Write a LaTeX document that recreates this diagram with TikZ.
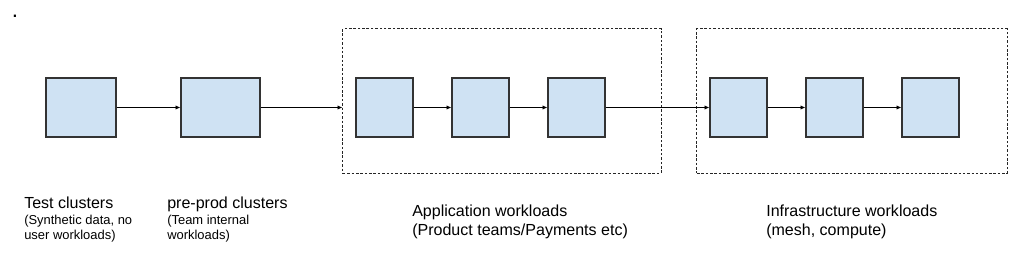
\documentclass[tikz,border=0pt]{standalone}
\usepackage{fontspec}
\setmainfont{Liberation Sans}
\usetikzlibrary{arrows.meta,positioning}
\definecolor{boxblue}{HTML}{CFE2F3}
\definecolor{lineg}{HTML}{333333}
\tikzset{
    cluster/.style={rectangle, draw=lineg, fill=boxblue, line width=0.8pt, minimum width=1.425cm, minimum height=1.475cm, inner sep=0pt},
    group/.style={rectangle, draw=black!85, dash pattern=on 1.8pt off 1.3pt, line width=0.7pt, inner sep=0pt},
    flow/.style={draw=black, line width=0.55pt, -{Latex[length=3.5pt,width=3pt]}},
    title/.style={anchor=north west, inner sep=0pt, align=left, font=\fontsize{11.4}{13.2}\selectfont},
    detail/.style={anchor=north west, inner sep=0pt, align=left, font=\fontsize{9.2}{10.7}\selectfont}
}
\begin{document}
\begin{tikzpicture}[x=0.025cm, y=-0.025cm]
    \useasboundingbox (0,0) rectangle (1024,254);

    % groups
    \node[group, minimum width=7.95cm, minimum height=3.6cm] (appgrp) at (502,101) {};
    \node[group, minimum width=7.75cm, minimum height=3.6cm] (infragrp) at (852,101) {};

    % Nodes
    \node[cluster, minimum width=1.75cm] (test) at (81,107.5) {};
    \node[cluster, minimum width=1.975cm] (prod) at (220.5,107.5) {};
    \node[cluster] (app1) at (384.5,107.5) {};
    \node[cluster] (app2) at (480.5,107.5) {};
    \node[cluster] (app3) at (576.5,107.5) {};
    \node[cluster] (infra1) at (738.5,107.5) {};
    \node[cluster] (infra2) at (834.5,107.5) {};
    \node[cluster] (infra3) at (930.5,107.5) {};

    % edges
    \draw[flow] (test) -- (prod);
    \draw[flow] (prod.east) -- (prod.east -| appgrp.west);
    \draw[flow] (app1) -- (app2);
    \draw[flow] (app2) -- (app3);
    \draw[flow] (app3) -- (infra1);
    \draw[flow] (infra1) -- (infra2);
    \draw[flow] (infra2) -- (infra3);

    % labels
    \node[anchor=base, inner sep=0pt, font=\fontsize{16}{18}\selectfont] (dot) at (15,17.5) {.};
    \node[title] (testlbl) at (24,197) {Test clusters};
    \node[detail] (testdet) at (24,215) {(Synthetic data, no\\user workloads)};
    \node[title] (prodlbl) at (167,197) {pre-prod clusters};
    \node[detail] (proddet) at (167,215) {(Team internal\\workloads)};
    \node[title] (applbl) at (412,205) {Application workloads\\(Product teams/Payments etc)};
    \node[title] (infralbl) at (766,205) {Infrastructure workloads\\(mesh, compute)};
\end{tikzpicture}
\end{document}
